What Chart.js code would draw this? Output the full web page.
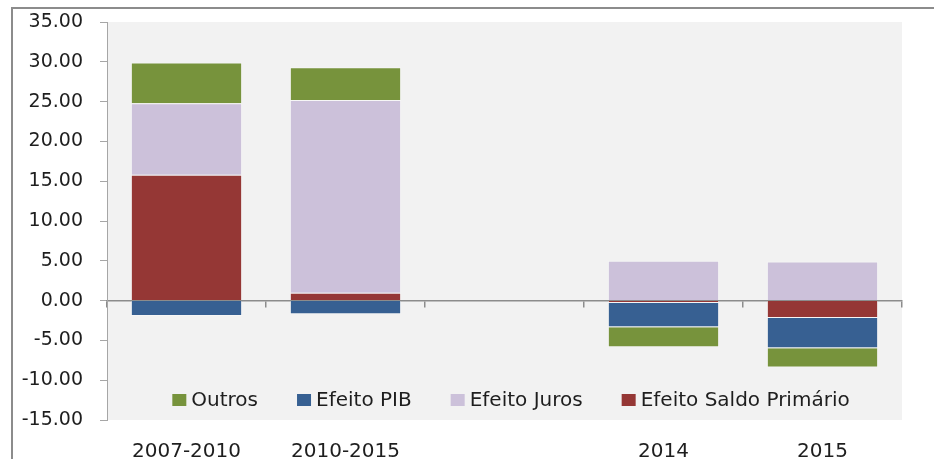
<!DOCTYPE html>
<html>
<head>
<meta charset="utf-8">
<script src="https://cdn.jsdelivr.net/npm/chart.js@4.4.1/dist/chart.umd.min.js"></script>
<style>
  html, body { margin: 0; padding: 0; background: #ffffff; }
  #wrap { width: 934px; height: 459px; position: relative; }
</style>
</head>
<body>
<div id="wrap"><canvas id="c" width="934" height="459"></canvas></div>
<script>
// ---- data ----
const categories = ['2007-2010', '2010-2015', '', '2014', '2015'];
const saldoPrimario = [15.8, 1.0, null, -0.3, -2.2];
const efeitoJuros   = [9.0, 24.2, null, 5.0, 4.9];
const efeitoPIB     = [-1.95, -1.7, null, -3.05, -3.8];
const outros        = [5.1, 4.1, null, -2.5, -2.4];
const yTicks = [-15, -10, -5, 0, 5, 10, 15, 20, 25, 30, 35];

const FONT = 'DejaVu Sans';
const TXT = '#1e1e1e';

const bgPlugin = {
  id: 'bg',
  beforeDraw(chart) {
    const { ctx, chartArea: a } = chart;
    ctx.save();
    ctx.fillStyle = '#f2f2f2';
    ctx.fillRect(a.left, a.top, a.right - a.left, a.bottom - a.top);
    // outer frame
    ctx.strokeStyle = '#8c8c8c';
    ctx.lineWidth = 2;
    ctx.beginPath();
    ctx.moveTo(12, 459);
    ctx.lineTo(12, 8);
    ctx.lineTo(934, 8);
    ctx.stroke();
    ctx.restore();
  }
};

const legendPlugin = {
  id: 'insideLegend',
  afterDraw(chart) {
    const { ctx } = chart;
    const ds = chart.data.datasets.slice().reverse();
    ctx.save();
    ctx.font = '20px "' + FONT + '"';
    ctx.textBaseline = 'middle';
    const box = 14, boxGap = 5, itemGap = 39;
    const widths = ds.map(d => box + boxGap + ctx.measureText(d.label).width);
    const total = widths.reduce((s, w) => s + w, 0) + itemGap * (ds.length - 1);
    let x = 511 - total / 2;
    const y = 400;
    ds.forEach((d, i) => {
      ctx.fillStyle = d.backgroundColor;
      ctx.fillRect(x, y - 6, box, 12);
      ctx.fillStyle = TXT;
      ctx.fillText(d.label, x + box + boxGap, y + 1);
      x += widths[i] + itemGap;
    });
    ctx.restore();
  }
};

new Chart(document.getElementById('c'), {
  type: 'bar',
  data: {
    labels: categories,
    datasets: [
      { label: 'Efeito Saldo Primário', data: saldoPrimario, backgroundColor: '#953735' },
      { label: 'Efeito Juros', data: efeitoJuros, backgroundColor: '#ccc1da' },
      { label: 'Efeito PIB', data: efeitoPIB, backgroundColor: '#376092' },
      { label: 'Outros', data: outros, backgroundColor: '#77933c' }
    ]
  },
  options: {
    responsive: false,
    animation: false,
    datasets: {
      bar: {
        barPercentage: 0.7,
        categoryPercentage: 1.0,
        borderWidth: 1,
        borderColor: 'rgba(255,255,255,0.35)'
      }
    },
    layout: { padding: { left: 13, top: 22, right: 32, bottom: 0 } },
    plugins: {
      legend: { display: false },
      tooltip: { enabled: false }
    },
    scales: {
      x: {
        stacked: true,
        grid: { display: false, drawTicks: false },
        border: { display: false },
        ticks: {
          color: TXT,
          font: { family: FONT, size: 20 },
          padding: 20,
          maxRotation: 0,
          autoSkip: false
        },
        afterFit(s) { s.height = 39; s.paddingLeft = 0; s.paddingRight = 0; }
      },
      xZero: {
        type: 'category',
        labels: categories,
        position: { y: 0 },
        offset: true,
        grid: { drawOnChartArea: false, offset: true, tickLength: 6, color: '#8c8c8c', lineWidth: 1.5 },
        border: { color: '#8c8c8c', width: 1.5 },
        ticks: { display: false },
        afterFit(s) { s.height = 0; }
      },
      y: {
        stacked: true,
        min: -15,
        max: 35,
        afterBuildTicks(s) { s.ticks = yTicks.map(v => ({ value: v })); },
        grid: { drawOnChartArea: false, tickLength: 7, color: '#a6a6a6' },
        border: { color: '#a6a6a6', width: 1 },
        ticks: {
          color: TXT,
          font: { family: FONT, size: 19 },
          padding: 17,
          callback: v => Number(v).toFixed(2)
        },
        afterFit(s) { s.width = 94; s.paddingTop = 0; s.paddingBottom = 0; }
      }
    }
  },
  plugins: [bgPlugin, legendPlugin]
});
</script>
</body>
</html>
